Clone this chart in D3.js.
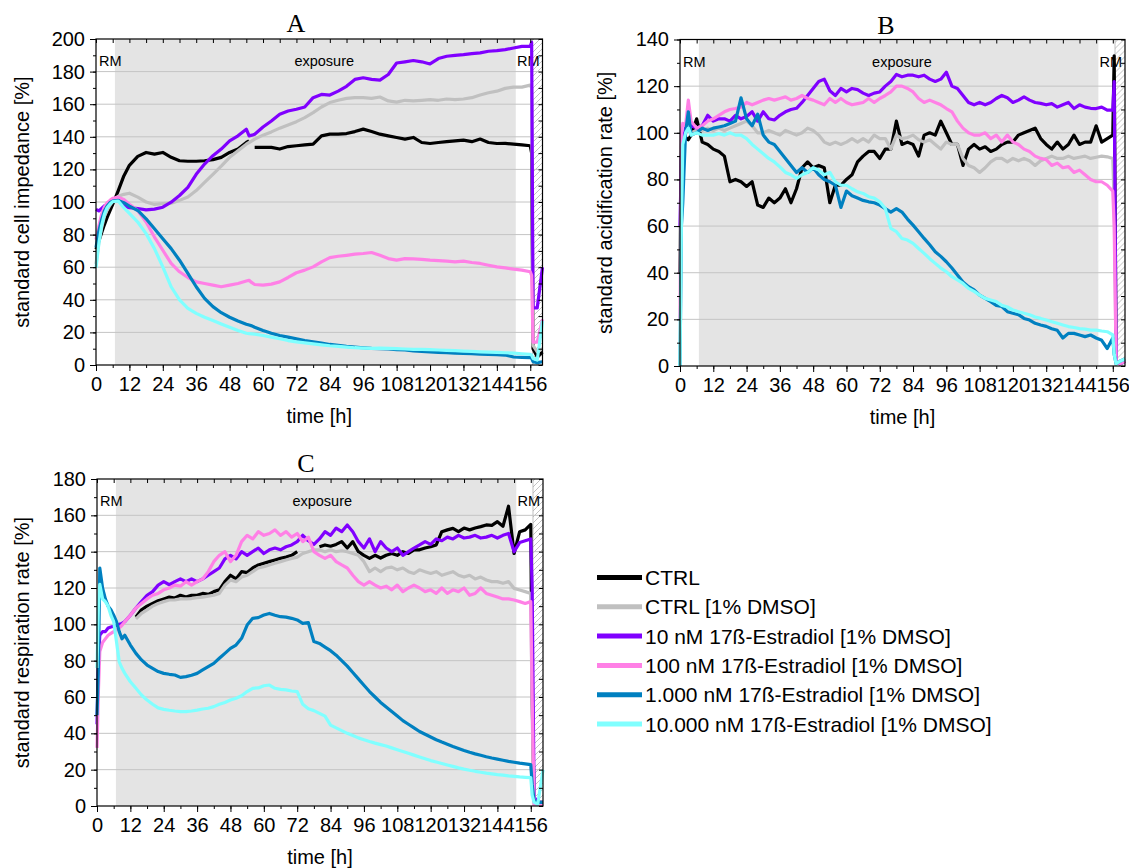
<!DOCTYPE html>
<html>
<head>
<meta charset="utf-8">
<script src="https://cdn.jsdelivr.net/npm/d3@7"></script>
<style>
body { margin: 0; background: #fff; }
text { font-family: "Liberation Sans", Arial, sans-serif; fill: #000; }
</style>
</head>
<body>
<script>
'use strict';

var seriesNames = ['CTRL', 'CTRL [1% DMSO]', '10 nM 17ß-Estradiol [1% DMSO]', '100 nM 17ß-Estradiol [1% DMSO]',
                   '1.000 nM 17ß-Estradiol [1% DMSO]', '10.000 nM 17ß-Estradiol [1% DMSO]'];
var seriesColors = ['#000000', '#c0c0c0', '#8000ff', '#ff80e6', '#0080c0', '#80ffff'];

var hourTicks = [0, 12, 24, 36, 48, 60, 72, 84, 96, 108, 120, 132, 144, 156];
var impTicks = [0, 20, 40, 60, 80, 100, 120, 140, 160, 180, 200];
var acidTicks = [0, 20, 40, 60, 80, 100, 120, 140];
var respTicks = [0, 20, 40, 60, 80, 100, 120, 140, 160, 180];

var exposureHours = [6.8, 150.8];
var washStart = 156.8;

// A: impedance
var hoursA = [0, 1, 2, 3, 4, 5, 6, 8, 10,
  12, 15, 18, 21, 24, 27, 30, 33, 36, 39, 42, 45, 48, 51, 54,
  55, 56,
  57, 60, 63, 66, 69, 72, 75, 78, 81, 84, 87, 90, 93, 96, 99, 102, 105, 108, 111, 114, 117, 120, 123, 126, 129, 132, 135, 138, 141, 144, 147, 150, 153, 156,
  156.5, 157, 158.5, 160.4];
var impCtrl = [71, 76, 81, 86, 90.5, 94.5, 98.5, 107, 116,
  122.5, 128, 130.4, 129.4, 130.4, 127.4, 125.3, 125, 125, 125.3, 126, 127.4, 130.4, 132.5, 136.5,
  137.5, null,
  133.5, 133.5, 133.5, 132.5, 134, 134.5, 135, 135.5, 140.6, 141.6, 141.6, 142, 143.2, 144.7, 143.2, 141.6, 140.6, 139.6, 138.6, 139.6, 136.5, 135.9, 136.5, 137, 137.5, 138, 137, 138.6, 136.5, 135.9, 136, 135.5, 135, 134.5,
  130, 10, 5, 8];
var impDmso = [62, 75, 84, 91, 95, 98, 100.5, 103.5, 104.7,
  105.4, 103, 100, 98.5, 99, 99.3, 101, 103, 107, 112, 117, 122, 127.4, 131.4, 135.5,
  136.5, 137.5,
  138.6, 141, 143, 145.3, 147.3, 149.3, 151.8, 154.8, 158.3, 161, 162.4, 163.6, 164, 164, 163.6, 164.4, 162, 161.3, 162.4, 162, 162.4, 162.8, 162.4, 163.2, 162.8, 163.2, 164, 165.6, 167, 168, 169.7, 170.5, 170.5, 171.7,
  170, 12, 8, 10];
var imp10 = [95.5, 94.5, 96, 97.6, 98.6, 100.2, 101.6, 101, 97.6,
  96.5, 96, 95.2, 95.6, 96.8, 99.9, 104, 109, 117, 123.3, 128.4, 132.5, 137.5, 140.6, 144.7,
  140.6, 141,
  141.6, 146, 149.7, 153.8, 155.8, 156.9, 158.3, 164, 166, 165.6, 168, 171, 175.2, 176.2, 175.2, 174.8, 178.2, 185.3, 186, 186.8, 186, 184.7, 188, 189.4, 190, 190.4, 191, 191.5, 192.5, 192.9, 193.5, 194.5, 195.5, 195.5,
  198, 35, 35, 60];
var imp100 = [77, 85, 92.4, 96.9, 99.6, 101, 102.2, 103, 101.6,
  98.6, 94.8, 87.7, 78.5, 70.4, 62.3, 57.2, 53.7, 51, 50, 49, 48, 49, 50, 51.5,
  52, 50.5,
  49.4, 49, 49.6, 51, 53.7, 56.6, 58.2, 60.2, 63.3, 65.9, 66.7, 67.3, 68, 68.4, 69, 67.3, 65.3, 64.3, 65.3, 65.1, 64.8, 64.3, 64, 63.7, 63.3, 63.7, 62.9, 62.3, 61.2, 60.2, 59.6, 58.8, 58.2, 57.2,
  55, 14, 14, 28];
var imp1000 = [72, 82, 89, 94.5, 97.5, 99.6, 100.6, 101, 99.6,
  97.5, 94.8, 89.7, 83.6, 77.5, 71.4, 64.3, 56.2, 48, 40.9, 35.8, 32.1, 29.3, 27, 25,
  24.5, 24,
  23.2, 21.2, 19.5, 18.1, 17.1, 16, 15, 14.2, 13.4, 12.6, 12, 11.4, 11, 10.6, 10.2, 10, 9.8, 9.4, 9.2, 8.7, 8.4, 8.1, 7.8, 7.5, 7.3, 7.1, 6.9, 6.7, 6.5, 6.3, 6.1, 4.9, 4.7, 4.5,
  4, 2, 1.5, 2];
var imp10000 = [59.7, 74, 85.3, 92.4, 96.5, 98.6, 100.2, 100.6, 96.5,
  93, 87.7, 80.6, 71.4, 60.2, 48, 39.9, 34.8, 31.7, 29.3, 27.3, 25.2, 23.2, 21.2, 19.5,
  19.3, 19.1,
  18.9, 18.1, 17.1, 16.1, 15, 14.2, 13.6, 13, 12.4, 11.8, 11.4, 11, 10.6, 10.4, 10.2, 10.4, 10.2, 10, 9.8, 9.6, 9.6, 9.4, 9.2, 9, 8.8, 8.5, 8.3, 8.1, 7.9, 7.7, 7.5, 7.3, 6.9, 6.5,
  6, 4, 3, 27];

// B: acidification
var hoursB = [0, 0.5, 1, 2, 3, 4, 6, 8, 10, 12,
  14, 16, 18, 20, 22, 24, 26, 28, 30, 32,
  34, 36, 38, 40, 42, 44, 46, 48, 50, 52,
  54, 56, 58, 60, 62, 64, 66, 68, 70, 72,
  74, 76, 78, 80, 82, 84, 86, 88, 90, 92,
  94, 96, 98, 100, 102, 104, 106, 108, 110, 112,
  114, 116, 118, 120, 122, 124, 126, 128, 130, 132,
  134, 136, 138, 140, 142, 144, 146, 148, 150, 152,
  154, 156, 156.5, 157.2, 158.5, 160.4];
var acidCtrl = [40, 90, 96, 98, 97, 99, 106, 96, 95, 93,
  92, 90, 79, 80, 79, 77, 79, 69, 68, 72,
  70, 72, 76, 70, 76, 85, 87.5, 85, 86, 85,
  70, 77.5, 77.5, 80, 82, 87.5, 90, 92, 92, 89,
  93, 93, 105, 95, 96, 95, 90, 99, 100, 99,
  105, 100, 95, 95, 86, 93, 95, 93, 94, 92,
  93, 95, 96, 96, 99, 100, 101, 102, 97.5, 95,
  93, 96, 93, 95, 99, 95, 96, 96, 103, 96,
  97.5, 99, 133, 2, 1, 2];
var acidDmso = [50, 95, 99, 100, 101, 100, 101, 101, 102, 101,
  102, 101, 102, 103, 104, 105, 103, 100, 100, 101,
  100, 99, 101, 100, 99, 100, 102, 101, 99, 96,
  95, 96, 95, 96, 97.5, 96, 97.5, 96, 99, 97.5,
  97.5, 93, 99, 97.5, 98, 99, 97, 96, 97, 95,
  93, 96, 95, 95, 89, 86, 85, 83, 85, 87.5,
  89, 89, 87.5, 89, 88, 89, 88, 86, 88, 89,
  90, 89, 89, 90, 89, 89.5, 90, 89, 89.5, 90,
  89.7, 89, 70, 2, 1, 2];
var acid10 = [60, 90, 95, 102, 101, 103, 102, 103, 107.5, 105,
  106, 106, 105, 107.5, 106, 107, 109, 105, 109, 106,
  105.5, 107.5, 109, 110, 110.5, 113, 116, 119, 122, 123,
  118, 116, 119, 117.5, 119, 118.5, 117, 116, 117, 117.5,
  120, 122, 125, 124, 124.7, 124.7, 124, 124.7, 123, 122,
  123, 126, 120, 119, 116, 113, 112, 113, 112, 113,
  114.7, 116, 115, 113, 114, 115.4, 114, 113, 112.6, 112,
  112.5, 111, 112, 113, 110.4, 112, 111, 110.5, 110.4, 111,
  109.7, 109.7, 122, 2, 1, 2];
var acid100 = [20, 100, 104, 103, 114, 105, 102, 103, 105, 106,
  107.5, 109, 110, 110.4, 111, 113, 112, 113, 114, 114.7,
  114, 114.7, 115.4, 114, 114.7, 116, 114.7, 114, 113, 112,
  114.7, 113, 114.7, 113, 112, 112.5, 113, 114.7, 113, 114.7,
  116, 117.5, 120, 120, 119, 117.5, 114.7, 113, 114, 113,
  112, 110.4, 109, 105, 102, 100, 99, 99, 100, 97.5,
  99, 96, 99, 96, 95, 93, 92, 90, 89, 88.5,
  86, 87, 85, 85.5, 83, 84, 82, 80, 79, 79,
  77.5, 75, 60, 2, 1, 2];
var acid1000 = [0, 60, 70, 100, 109, 99, 100, 102, 101, 102,
  102.5, 103, 104, 105, 115, 106, 103, 108, 99, 96,
  95, 92, 89, 86, 83, 85, 83, 85, 82, 80,
  79, 77.5, 68, 75, 73, 72, 71, 70.4, 70, 69,
  67.5, 66, 67.5, 66, 63, 60.4, 57.6, 54.7, 52, 49,
  47, 44.7, 42, 39, 36, 34, 32.6, 30.4, 29, 27.6,
  26, 25.5, 23.3, 22.6, 22, 20.4, 19.7, 18.3, 17.6, 17,
  16, 15.3, 12, 14, 14, 13.3, 12.6, 13.3, 12, 11,
  7.5, 12, 5, 1, 2, 3];
var acid10000 = [0, 60, 95, 100, 102, 99, 100, 99, 99, 99,
  99.7, 99, 100, 99, 99, 97.5, 95, 93, 91, 89,
  87.5, 85.4, 83, 82, 80.4, 82, 83, 85, 84, 82,
  83, 79, 77.5, 77.5, 76, 74.7, 74, 72.6, 72, 70.4,
  67.5, 59, 57.6, 54.7, 54, 52.6, 50.4, 48.3, 46, 44,
  42, 40.4, 38.3, 36.9, 35.4, 33.3, 32, 30.4, 29, 28.3,
  27.6, 26, 25.3, 24, 23.3, 22.6, 22, 21, 20.4, 19.7,
  19, 18.3, 17.6, 16.9, 16.5, 16, 15.8, 15.4, 15.4, 15,
  14.7, 13.3, 5, 1, 2, 3];

// C: respiration
var hoursC = [0, 0.5, 1, 2, 3, 4, 5, 6, 7, 8, 9, 10,
  12, 14, 16, 18, 20, 22, 24, 26, 28, 30,
  32, 34, 36, 38, 40, 42, 44, 46, 48, 50,
  52, 54, 56, 58, 60, 62, 64, 66, 68, 70,
  72, 74, 76, 78, 80, 82, 84, 86, 88, 90,
  92, 94, 96, 98, 100, 102, 104, 106, 108, 110,
  112, 114, 116, 118, 120, 122, 124, 126, 128, 130,
  132, 134, 136, 138, 140, 142, 144, 146, 148, 150,
  152, 154, 156,
  156.5, 157.2, 158.5, 160.4];
var respCtrl = [null, null, null, null, null, null, null, null, null, null, null, null,
  null, 104, 108, 110, 111.5, 113, 114, 115, 114.5, 116,
  115, 116, 116, 117, 116.5, 118, 119, 123.5, 127, 125,
  129, 128.5, 131, 132.7, 133.6, 134.5, 135.4, 136.3, 137, 138,
  140, null, null, null, 142.7, 143.7, 143, 144, 145.5, 142,
  145.5, 140, 138, 136.3, 138, 136.5, 138, 139, 138, 140,
  139, 141, 141, 142, 142.7, 143.7, 151, 152, 152.8, 151,
  153, 152, 153, 153.8, 154.7, 154.5, 156.5, 154, 165, 139,
  151, 152, 155,
  60, 3, 2, 2];
var respDmso = [null, null, null, null, null, null, null, null, null, null, null, null,
  null, 103, 106, 108, 110, 111.5, 112.5, 113.4, 113.5, 114,
  114, 114.2, 114.7, 115, 115.5, 116, 117, 121.6, 124.4, 123.5,
  126, 127, 129, 131, 131.7, 132.7, 133.6, 134.5, 135.4, 136.3,
  137, 139, 140, 141, 141, 140, 141, 140, 140.5, 140,
  139, 138, 134.5, 129, 131, 129, 131, 131.5, 130, 131,
  129, 128, 130, 129, 128, 129, 127, 128, 129, 127,
  126, 127, 125, 126, 124.4, 123.5, 123.5, 122.6, 123.5, 119.8,
  118.9, 118, 117,
  50, 2, 1, 1];
var resp10 = [45, 80, 94, 96, 96, 98, 98.5, 99, 99.5, 100, 100.5, 101.5,
  105, 109, 112.5, 116, 118, 121.6, 123.5, 121.8, 123.5, 125,
  123.5, 125, 123.5, 125, 127, 129, 131, 136, 138, 136,
  140, 138, 140, 142, 139, 141, 142, 141, 142.7, 143.7,
  145.5, 149, 146, 144, 147, 151, 149, 153, 151, 154.7,
  151, 145.5, 142, 147, 140, 145.5, 142, 140, 142, 138,
  140, 142, 143.7, 145.5, 144, 147, 146, 148, 147, 149,
  147.5, 148, 149, 147.5, 148, 149, 147.5, 149, 150, 140,
  145, 146, 147,
  120, 5, 2, 2];
var resp100 = [32, 63, 85, 90, 92, 94, 95, 96, 97, 98, 99.5, 101.5,
  105, 109, 111.5, 114, 116, 117, 119, 120, 121.6, 121,
  123.5, 121.6, 123.5, 125, 129, 134.5, 138, 140, 134.5, 138,
  145.5, 149, 147, 151, 149, 150, 152, 149, 151, 148,
  150, 145.5, 148, 140, 138, 136.3, 138, 134.5, 132.7, 131,
  127, 123.5, 121.6, 123.5, 121.6, 120, 121, 119, 121.6, 118,
  120, 121.6, 120, 118, 119, 117, 120, 117, 119, 118,
  120, 116, 117, 120, 117, 116, 115, 114, 114, 113.4,
  112.5, 111.5, 112.5,
  60, 1, 1, 1];
var resp1000 = [50, 76, 131, 120, 114, 110, 108, 105, 101.5, 96, 92, 94,
  88.6, 84, 80.4, 77.6, 75.8, 74, 73, 72.5, 72.1, 70.8,
  71.2, 72, 73, 74.9, 76.7, 78.5, 81.3, 84, 86.8, 88.6,
  92.3, 99.6, 103.3, 103.7, 105.1, 106, 105, 104.2, 104, 103.3,
  102.4, 100.5, 101, 90.5, 89.5, 87.5, 85.5, 83, 80, 77,
  73.5, 70, 66.5, 63, 60, 57, 54.5, 52, 49.5, 47,
  45, 43, 41, 39.5, 38, 36.5, 35.2, 34, 32.8, 31.7,
  30.6, 29.6, 28.7, 27.9, 27.1, 26.4, 25.8, 25.2, 24.6, 24.1,
  23.6, 23.2, 22.8,
  12, 3, 2, 2];
var resp10000 = [76, 110, 122, 114, 112.5, 110, 105, 101.5, 90.5, 79.4, 75.8, 73,
  68.4, 64.8, 61.1, 58.3, 56, 54, 53.2, 52.7, 52.3, 52,
  52, 52.3, 52.8, 53.4, 53.8, 54.7, 56, 57, 58.3, 59.3,
  60.7, 63, 64.8, 65, 66.2, 66.6, 64.8, 64.2, 63.9, 63.3,
  63, 56, 53.5, 52.5, 51, 49.5, 44.5, 43, 41.5, 40,
  38.8, 37.5, 36.5, 35.5, 34.6, 33.8, 33, 32, 31, 30,
  29, 28, 27, 26, 25, 24.2, 23.4, 22.6, 21.8, 21,
  20.3, 19.7, 19.1, 18.6, 18.1, 17.7, 17.3, 17, 16.6, 16.3,
  16, 15.8, 15.6,
  6, 2, 1, 20];

var chart = {};

chart.width = 1129;
chart.height = 868;
chart.xMax = 160.4;

chart.panels = [
  { title: 'A', left: 96, top: 39, width: 446.5, height: 326, ticks: impTicks, hours: hoursA,
    values: [impCtrl, impDmso, imp10, imp100, imp1000, imp10000],
    yLabel: 'standard cell impedance [%]', yLabelX: 22, titleX: 296, titleY: 32, exposureX: 82 },
  { title: 'B', left: 680, top: 39.5, width: 445, height: 326.5, ticks: acidTicks, hours: hoursB,
    values: [acidCtrl, acidDmso, acid10, acid100, acid1000, acid10000],
    yLabel: 'standard acidification rate [%]', yLabelX: 605, titleX: 886, titleY: 34, exposureX: 80 },
  { title: 'C', left: 97, top: 479, width: 446, height: 327, ticks: respTicks, hours: hoursC,
    values: [respCtrl, respDmso, resp10, resp100, resp1000, resp10000],
    yLabel: 'standard respiration rate [%]', yLabelX: 22, titleX: 306, titleY: 472, exposureX: 81 }
];

chart.appendSVG = function(div, width, height){
    var svg = d3.select(div).append('svg')
                .attr('width', width)
                .attr('height', height);
    svg.append('rect').attr('width', width).attr('height', height).attr('fill', '#fff');

    var pat = svg.append('defs').append('pattern')
                .attr('id', 'hatch')
                .attr('patternUnits', 'userSpaceOnUse')
                .attr('width', 6)
                .attr('height', 6);
    pat.append('path')
        .attr('d', 'M-1,1 L1,-1 M0,6 L6,0 M5,7 L7,5')
        .attr('stroke', '#a8a8a8')
        .attr('stroke-width', 0.7);
    return svg;
}

chart.drawPanel = function(svg, p){
    var w = p.width;
    var h = p.height;
    var yMax = p.ticks[p.ticks.length - 1];

    var x = d3.scaleLinear().domain([0, chart.xMax]).range([0, w]);
    var y = d3.scaleLinear().domain([0, yMax]).range([h, 0]);

    var g = svg.append('g').attr('transform', 'translate(' + p.left + ',' + p.top + ')');

    // phases: exposure (grey) and wash-out (hatched)
    g.append('rect')
        .attr('x', x(exposureHours[0]))
        .attr('y', 0)
        .attr('width', x(exposureHours[1]) - x(exposureHours[0]))
        .attr('height', h)
        .attr('fill', '#e4e4e4');
    g.append('rect')
        .attr('x', x(washStart))
        .attr('y', 0)
        .attr('width', w - x(washStart))
        .attr('height', h)
        .attr('fill', 'url(#hatch)');
    g.append('line')
        .attr('x1', x(washStart)).attr('x2', x(washStart))
        .attr('y1', 0).attr('y2', h)
        .attr('stroke', '#b0b0b0')
        .attr('stroke-width', 0.8);

    // horizontal grid
    g.selectAll('.grid')
        .data(p.ticks.slice(1, -1))
        .enter()
            .append('line')
            .classed('grid', true)
            .attr('x1', 0).attr('x2', w)
            .attr('y1', function(d){ return y(d); })
            .attr('y2', function(d){ return y(d); })
            .attr('stroke', '#c4c4c4')
            .attr('stroke-width', 1);

    // phase labels
    g.append('text').attr('x', 3).attr('y', 27).style('font-size', '14.5px').text('RM');
    g.append('text').attr('x', x(p.exposureX)).attr('y', 27).attr('text-anchor', 'middle')
        .style('font-size', '14.5px').text('exposure');
    g.append('text').attr('x', w - 3).attr('y', 27).attr('text-anchor', 'end')
        .style('font-size', '14.5px').text('RM');

    // data lines
    var line = d3.line()
                 .defined(function(d){ return d[1] !== null; })
                 .x(function(d){ return x(d[0]); })
                 .y(function(d){ return y(d[1]); });

    p.values.forEach(function(vals, k){
        var pts = p.hours.map(function(hr, i){ return [hr, vals[i]]; });
        g.append('path')
            .datum(pts)
            .attr('d', line)
            .attr('fill', 'none')
            .attr('stroke', seriesColors[k])
            .attr('stroke-width', 3.2)
            .attr('stroke-linejoin', 'round');
    });

    // axes
    var minorY = d3.range(0, yMax + 1, 10);
    var minorX = d3.range(0, 157, 6);

    var axes = [
        g.append('g').call(d3.axisLeft(y).tickValues(minorY).tickSize(3).tickFormat('')),
        g.append('g').call(d3.axisLeft(y).tickValues(p.ticks).tickSize(6).tickPadding(5).tickFormat(d3.format('d'))),
        g.append('g').attr('transform', 'translate(0,' + h + ')')
            .call(d3.axisBottom(x).tickValues(minorX).tickSize(3).tickFormat('')),
        g.append('g').attr('transform', 'translate(0,' + h + ')')
            .call(d3.axisBottom(x).tickValues(hourTicks).tickSize(6).tickPadding(6).tickFormat(d3.format('d'))),
        g.append('g').call(d3.axisTop(x).tickValues(minorX).tickSize(-4).tickFormat('')),
        g.append('g').attr('transform', 'translate(' + w + ',0)')
            .call(d3.axisRight(y).tickValues(minorY).tickSize(-4).tickFormat(''))
    ];
    axes.forEach(function(a){
        a.select('.domain').remove();
        a.selectAll('line').attr('stroke', '#000').attr('stroke-width', 1);
        a.selectAll('text').style('font-size', '20px').style('font-family', '"Liberation Sans", Arial, sans-serif');
    });

    g.append('rect')
        .attr('width', w)
        .attr('height', h)
        .attr('fill', 'none')
        .attr('stroke', '#000')
        .attr('stroke-width', 1.2);

    // titles
    svg.append('text')
        .attr('x', p.titleX)
        .attr('y', p.titleY)
        .attr('text-anchor', 'middle')
        .style('font-family', '"Liberation Serif", "Times New Roman", serif')
        .style('font-size', '26px')
        .text(p.title);

    svg.append('text')
        .attr('transform', 'translate(' + p.yLabelX + ',' + (p.top + h / 2) + ') rotate(-90)')
        .attr('text-anchor', 'middle')
        .attr('dy', '0.35em')
        .style('font-size', '20px')
        .text(p.yLabel);

    svg.append('text')
        .attr('x', p.left + w / 2)
        .attr('y', p.top + h + 58)
        .attr('text-anchor', 'middle')
        .style('font-size', '20px')
        .text('time [h]');
}

chart.drawLegend = function(svg){
    var rowY = function(i){ return 577.5 + i * 29.3; };

    svg.selectAll('.legend-line')
        .data(seriesNames)
        .enter()
            .append('line')
            .classed('legend-line', true)
            .attr('x1', 597).attr('x2', 642)
            .attr('y1', function(d, i){ return rowY(i); })
            .attr('y2', function(d, i){ return rowY(i); })
            .attr('stroke', function(d, i){ return seriesColors[i]; })
            .attr('stroke-width', 5);

    svg.selectAll('.legend-label')
        .data(seriesNames)
        .enter()
            .append('text')
            .classed('legend-label', true)
            .attr('x', 645)
            .attr('y', function(d, i){ return rowY(i); })
            .attr('dy', '0.36em')
            .style('font-size', '21px')
            .text(function(d){ return d; });
}

chart.run = function(){
    var svg = chart.appendSVG('body', chart.width, chart.height);
    chart.panels.forEach(function(p){ chart.drawPanel(svg, p); });
    chart.drawLegend(svg);
}

chart.run();
</script>
</body>
</html>
